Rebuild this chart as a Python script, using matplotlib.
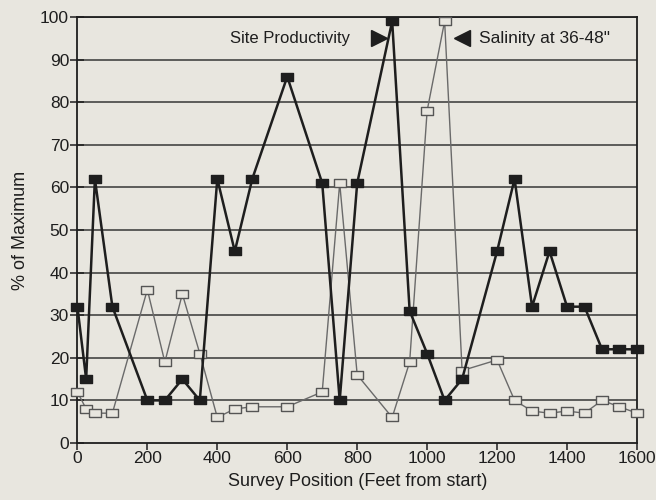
"""
Site productivity vs salinity along the survey line
"""
import matplotlib
matplotlib.use("Agg")
import matplotlib.pyplot as plt

# survey positions (feet from start)
position = [0, 25, 50, 100, 200, 250, 300, 350, 400, 450, 500, 600, 700, 750,
            800, 900, 950, 1000, 1050, 1100, 1200, 1250, 1300, 1350, 1400,
            1450, 1500, 1550, 1600]

# % of maximum
productivity = [32, 15, 62, 32, 10, 10, 15, 10, 62, 45, 62, 86, 61, 10,
                61, 99, 31, 21, 10, 15, 45, 62, 32, 45, 32, 32, 22, 22, 22]
salinity = [12, 8, 7, 7, 36, 19, 35, 21, 6, 8, 8.5, 8.5, 12, 61,
            16, 6, 19, 78, 99, 17, 19.5, 10, 7.5, 7, 7.5, 7, 10, 8.5, 7]

paper = "#e8e6df"
ink = "#1e1e1e"
rect = [(-1.5, -1), (1.5, -1), (1.5, 1), (-1.5, 1), (-1.5, -1)]

plt.rcParams['font.family'] = ['Liberation Sans', 'DejaVu Sans']

fig = plt.figure(figsize=(6.56, 5.0), dpi=100, facecolor=paper)
ax = fig.add_axes([0.118, 0.114, 0.853, 0.852], facecolor=paper)

# grid
for g in range(10, 101, 10):
    ax.axhline(g, color="#444444", linewidth=1.2, zorder=1)

ax.plot(position, salinity, color="#6a6a6a", linewidth=1.0,
        marker=rect, markersize=8.5, markerfacecolor=paper,
        markeredgecolor="#555555", markeredgewidth=1.0, zorder=3,
        clip_on=False)
ax.plot(position, productivity, color=ink, linewidth=1.8,
        marker=rect, markersize=9, markerfacecolor=ink,
        markeredgecolor=ink, zorder=4, clip_on=False)

# labels on the chart
ax.text(780, 95, "Site Productivity", ha="right", va="center",
        fontsize=12, color=ink, zorder=5)
ax.plot([862], [95], marker=">", markersize=11, color=ink,
        linestyle="none", zorder=5)
ax.plot([1100], [95], marker="<", markersize=11, color=ink,
        linestyle="none", zorder=5)
ax.text(1148, 95, "Salinity at 36-48\"", ha="left", va="center",
        fontsize=12.5, color=ink, zorder=5)

ax.set_xlim(0, 1600)
ax.set_ylim(0, 100)
ax.set_xticks(range(0, 1601, 200))
ax.set_yticks(range(0, 101, 10))
ax.tick_params(axis="both", direction="inout", length=10, width=1.1,
               colors=ink, labelsize=12.5, pad=1)
ax.tick_params(axis="x", direction="out", length=5, pad=1)

for s in ax.spines.values():
    s.set_color(ink)
    s.set_linewidth(1.3)

ax.set_xlabel("Survey Position (Feet from start)", fontsize=13,
              color=ink, labelpad=5)
ax.set_ylabel("% of Maximum", fontsize=13, color=ink, labelpad=8)

fig.savefig("out.png", dpi=100, facecolor=paper)
